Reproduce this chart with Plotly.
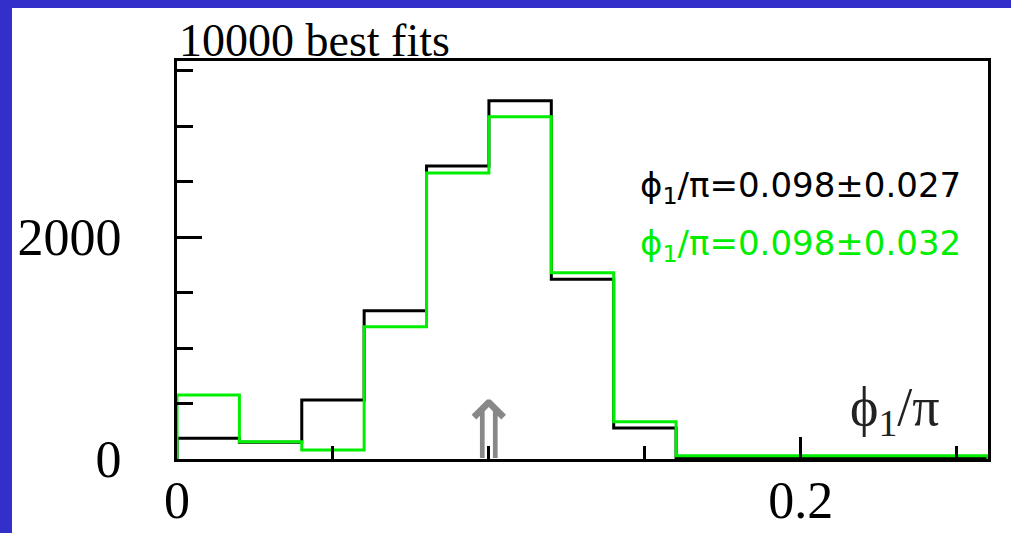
import plotly.graph_objects as go

# phi_1/pi histogram, 13 bins of width 0.02 from 0 to 0.26
bin_edges = [0.0, 0.02, 0.04, 0.06, 0.08, 0.10, 0.12, 0.14, 0.16, 0.18, 0.20, 0.22, 0.24, 0.26]
counts_black = [186, 150, 532, 1336, 2640, 3228, 1619, 279, 10, 10, 10, 10, 10]
counts_green = [576, 156, 81, 1192, 2577, 3084, 1678, 336, 30, 30, 30, 30, 30]

x_ticks = [0, 0.2]
x_ticktext = ["0", "0.2"]
y_ticks = [0, 2000]
y_ticktext = ["0", "2000"]

BLACK = "#000000"
GREEN = "#00ee00"
BLUE = "#3230c8"
SERIF = "Liberation Serif, Times New Roman, serif"
SANS = "DejaVu Sans, sans-serif"

W, H = 1011, 533
L, R, T, B = 177, 23, 61, 74
PW, PH = W - L - R, H - T - B


def px_x(px):
    return (px - L) / PW


def px_y(py):
    return (H - B - py) / PH


def step_xy(edges, counts):
    # outline of a histogram: up from the baseline, across each bin, back down
    xs = [edges[0]] + edges[:-1] + [edges[-1], edges[-1]]
    ys = [0] + counts + [counts[-1], 0]
    return xs, ys


fig = go.Figure()
for counts, color in [(counts_black, BLACK), (counts_green, GREEN)]:
    xs, ys = step_xy(bin_edges, counts)
    fig.add_trace(go.Scatter(
        x=xs, y=ys, mode="lines",
        line=dict(color=color, width=3, shape="hv"),
        showlegend=False, hoverinfo="skip",
    ))

# blue slide border (left and top strips)
fig.add_shape(type="rect", xref="paper", yref="paper",
              x0=px_x(0), x1=px_x(12), y0=px_y(H), y1=px_y(0),
              fillcolor=BLUE, line_width=0, layer="below")
fig.add_shape(type="rect", xref="paper", yref="paper",
              x0=px_x(0), x1=px_x(W), y0=px_y(8), y1=px_y(0),
              fillcolor=BLUE, line_width=0, layer="below")

fig.add_annotation(text="10000 best fits", xref="paper", yref="paper",
                   x=0, y=px_y(40), xanchor="left", yanchor="middle",
                   showarrow=False, font=dict(family=SERIF, size=46, color=BLACK))
fig.add_annotation(text="ϕ<sub>1</sub>/π=0.098±0.027", xref="paper", yref="paper",
                   x=px_x(638), y=px_y(187), xanchor="left", yanchor="middle",
                   showarrow=False, font=dict(family=SANS, size=34, color=BLACK))
fig.add_annotation(text="ϕ<sub>1</sub>/π=0.098±0.032", xref="paper", yref="paper",
                   x=px_x(638), y=px_y(246), xanchor="left", yanchor="middle",
                   showarrow=False, font=dict(family=SANS, size=34, color=GREEN))
fig.add_annotation(text="ϕ<sub>1</sub>/π", xref="paper", yref="paper",
                   x=px_x(895), y=px_y(410), xanchor="center", yanchor="middle",
                   showarrow=False, font=dict(family=SERIF, size=54, color="#222"))
fig.add_annotation(text="⇑", x=0.1, xref="x", yref="paper",
                   y=px_y(430), xanchor="center", yanchor="middle",
                   showarrow=False, font=dict(family=SANS, size=80, color="#888"))

axis_common = dict(
    showline=True, linecolor=BLACK, linewidth=3, mirror=True, automargin=False,
    showgrid=False, zeroline=False, ticks="inside", tickcolor=BLACK, tickwidth=3,
    tickfont=dict(family=SERIF, size=52, color=BLACK),
)

fig.update_layout(
    width=W, height=H,
    margin=dict(l=L, r=R, t=T, b=B),
    paper_bgcolor="white", plot_bgcolor="white",
    xaxis=dict(**axis_common, range=[0, 0.26], tickvals=x_ticks, ticktext=x_ticktext,
               ticklen=22, ticklabelstandoff=-6,
               minor=dict(dtick=0.05, tick0=0, ticklen=13, tickwidth=3,
                          tickcolor=BLACK, ticks="inside", showgrid=False)),
    yaxis=dict(**axis_common, range=[0, 3586], tickvals=y_ticks, ticktext=y_ticktext,
               ticklen=25, ticklabelstandoff=42,
               minor=dict(dtick=500, tick0=0, ticklen=16, tickwidth=3,
                          tickcolor=BLACK, ticks="inside", showgrid=False)),
)

# the page's default body margin would shift the 1011x533 figure off the window
fig.write_html("out.html", config={"displayModeBar": False},
               post_script="document.body.style.margin='0';document.body.style.overflow='hidden';")
